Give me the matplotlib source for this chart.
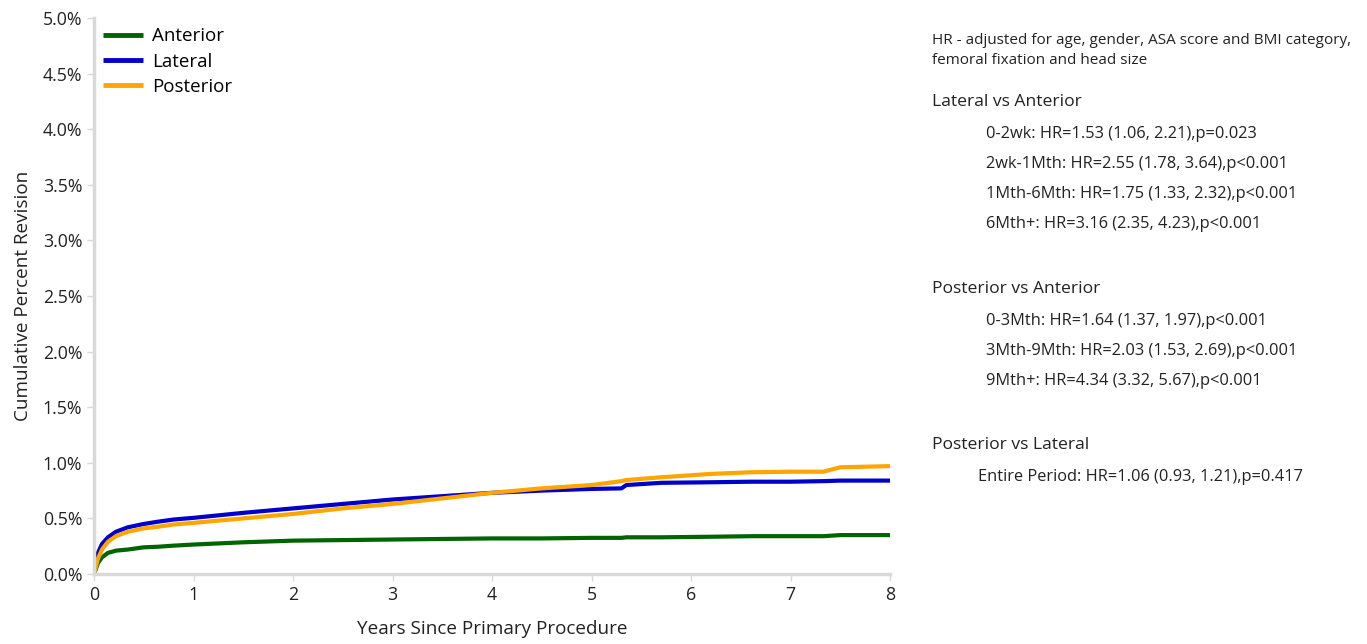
import matplotlib
matplotlib.use("Agg")
import matplotlib.pyplot as plt
from matplotlib.ticker import FuncFormatter

plt.rcParams['font.family'] = ['Open Sans', 'DejaVu Sans']

# Data (years, cumulative percent revision)
years = [0, 0.02, 0.04, 0.08, 0.14, 0.22, 0.34, 0.5, 0.64, 0.8, 1.0, 1.5, 2.0, 2.5, 3.0, 3.5,
         4.0, 4.5, 5.0, 5.3, 5.35, 5.7, 6.2, 6.6, 7.0, 7.33, 7.5, 8.0]
anterior = [0, 0.05, 0.10, 0.15, 0.19, 0.21, 0.22, 0.24, 0.245, 0.255, 0.265, 0.285, 0.30, 0.305,
            0.31, 0.315, 0.32, 0.32, 0.325, 0.325, 0.33, 0.33, 0.335, 0.34, 0.34, 0.34, 0.35, 0.35]
lateral = [0, 0.10, 0.19, 0.27, 0.33, 0.38, 0.42, 0.45, 0.47, 0.49, 0.505, 0.55, 0.59, 0.63,
           0.67, 0.70, 0.73, 0.75, 0.765, 0.77, 0.80, 0.82, 0.825, 0.83, 0.83, 0.835, 0.84, 0.84]
posterior = [0, 0.07, 0.14, 0.22, 0.29, 0.34, 0.38, 0.41, 0.425, 0.445, 0.46, 0.50, 0.54, 0.59,
             0.63, 0.68, 0.73, 0.77, 0.80, 0.835, 0.845, 0.87, 0.90, 0.915, 0.92, 0.92, 0.96, 0.97]

series_names = ["Anterior", "Lateral", "Posterior"]
series_colors = ["#006400", "#0000CD", "#FFA500"]

y_ticks = [0, 0.5, 1.0, 1.5, 2.0, 2.5, 3.0, 3.5, 4.0, 4.5, 5.0]
x_ticks = [0, 1, 2, 3, 4, 5, 6, 7, 8]

header = ["HR - adjusted for age, gender, ASA score and BMI category,", "femoral fixation and head size"]
groups = [
    ("Lateral vs Anterior", ["0-2wk: HR=1.53 (1.06, 2.21),p=0.023",
                             "2wk-1Mth: HR=2.55 (1.78, 3.64),p<0.001",
                             "1Mth-6Mth: HR=1.75 (1.33, 2.32),p<0.001",
                             "6Mth+: HR=3.16 (2.35, 4.23),p<0.001"]),
    ("Posterior vs Anterior", ["0-3Mth: HR=1.64 (1.37, 1.97),p<0.001",
                               "3Mth-9Mth: HR=2.03 (1.53, 2.69),p<0.001",
                               "9Mth+: HR=4.34 (3.32, 5.67),p<0.001"]),
    ("Posterior vs Lateral", ["Entire Period: HR=1.06 (0.93, 1.21),p=0.417"]),
]

fig = plt.figure(figsize=(13.67, 6.44), dpi=100)
ax = fig.add_axes([0.0688, 0.1087, 0.5823, 0.8633])

for vals, name, col in zip([anterior, lateral, posterior], series_names, series_colors):
    ax.plot(years, vals, color=col, lw=3.0, label=name, solid_capstyle='butt')

ax.set_xlim(0, 8)
ax.set_ylim(0, 5.0)
ax.set_xticks(x_ticks)
ax.set_yticks(y_ticks)
ax.yaxis.set_major_formatter(FuncFormatter(lambda v, p: f"{v:.1f}%"))
for s in ['top', 'right']:
    ax.spines[s].set_visible(False)
for s in ['left', 'bottom']:
    ax.spines[s].set_color('#d9d9d9')
    ax.spines[s].set_linewidth(2.5)
ax.tick_params(axis='both', colors='#d9d9d9', labelcolor='#222222', labelsize=12.8, length=5, width=1)
ax.set_xlabel("Years Since Primary Procedure", fontsize=13.6, color='#222222', labelpad=12)
ax.set_ylabel("Cumulative Percent Revision", fontsize=13.6, color='#222222', labelpad=8)

leg = ax.legend(loc='upper left', bbox_to_anchor=(0.0, 1.0), frameon=False, fontsize=13.5,
                handlelength=2.1, handletextpad=0.5, labelspacing=0.38, borderaxespad=0.1)
for h in leg.get_lines():
    h.set_linewidth(3.5)

# Right-side text
x0 = 932 / 1367
fig.text(x0, 1 - 40 / 644, header[0], fontsize=11, va='center', color='#222222')
fig.text(x0, 1 - 60 / 644, header[1], fontsize=11, va='center', color='#222222')
title_y = [102, 289, 445]
line_x = [986, 986, 978]
for (title, lines), ty, lx in zip(groups, title_y, line_x):
    fig.text(x0, 1 - ty / 644, title, fontsize=12.6, va='center', color='#222222')
    for i, ln in enumerate(lines):
        yy = ty + 32 + 30 * i
        fig.text(lx / 1367, 1 - yy / 644, ln, fontsize=11.8, va='center', color='#222222')

fig.savefig("out.png", dpi=100)
